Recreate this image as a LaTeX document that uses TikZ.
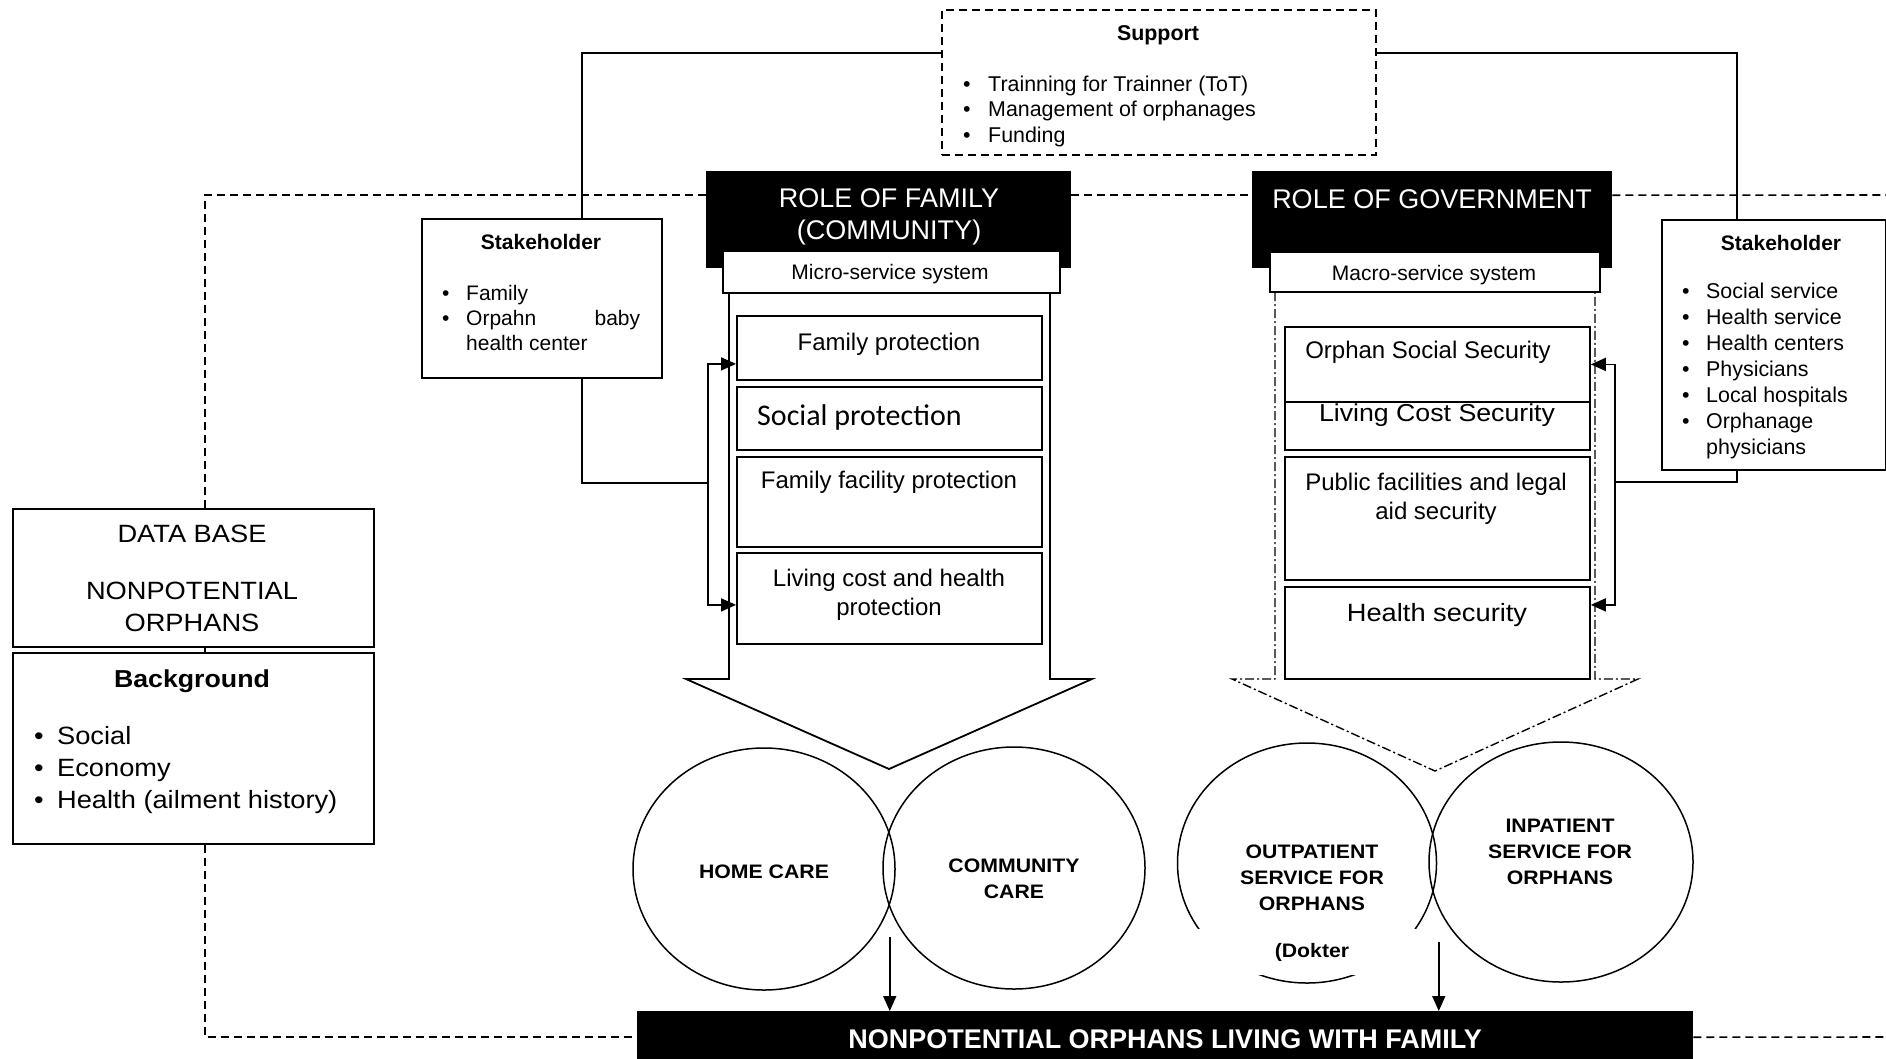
\documentclass[tikz,border=0pt]{standalone}
\usepackage{fontspec}
\setmainfont{Liberation Sans}
\newfontfamily\calfont{Carlito}
\newfontfamily\widesans[FakeStretch=1.09]{Liberation Sans}
\usetikzlibrary{shapes.geometric,arrows.meta}
\newcommand{\blt}[1]{\makebox[#1][l]{\textbullet}}
\tikzset{
	box/.style={draw, line width=1.8pt, fill=white, inner sep=0pt, anchor=north west},
	blackbox/.style={fill=black, inner sep=0pt, anchor=north west},
	txt/.style={inner sep=0pt, align=center, yshift=-2.5pt},
	lst/.style={inner sep=0pt, align=left, anchor=west},
	oval/.style={draw, ellipse, line width=1.5pt, inner sep=0pt},
	dsh/.style={line width=1.6pt, dash pattern=on 8pt off 5pt},
	dshdot/.style={line width=1.4pt, dash pattern=on 9pt off 3pt on 2pt off 3pt},
	link/.style={line width=1.8pt},
	tip/.style={line width=1.6pt, -{Triangle[length=15pt,width=13pt]}},
	fbig/.style={font=\fontsize{27}{32}\selectfont},
	fmid/.style={font=\fontsize{24}{29}\selectfont},
	fsml/.style={font=\fontsize{21}{25}\selectfont},
	fhead/.style={font=\bfseries\fontsize{21}{25}\selectfont},
	fleft/.style={font=\widesans\fontsize{25}{32}\selectfont},
	fovl/.style={font=\widesans\bfseries\fontsize{19.5}{26}\selectfont}
}

\begin{document}
\begin{tikzpicture}[x=1pt, y=-1pt]
	\useasboundingbox (0,0) rectangle (1886,1058);

	\node[box, dsh, minimum width=434pt, minimum height=145pt] (sup) at (941,9) {};
	\node[txt, font=\bfseries\fontsize{21.4}{25}\selectfont] (supt) at (1158,33) {Support};
	\node[lst, yshift=-3pt, font=\fontsize{21.4}{25.5}\selectfont] (supl) at (963,108) {\blt{25pt}Trainning for Trainner (ToT)\\ \blt{25pt}Management of orphanages\\ \blt{25pt}Funding};

	\node[box, minimum width=240pt, minimum height=159pt] (stl) at (421,218) {};
	\node[txt, fhead] (stlt) at (541,239.5) {Stakeholder};
	\node[lst, yshift=-0.5pt, fsml] (stll) at (442,317) {\blt{24pt}Family\\ \blt{24pt}\makebox[174pt][l]{Orpahn\hfill baby}\\ \hspace*{24pt}health center};

	\node[box, minimum width=224pt, minimum height=250pt] (str) at (1661,219) {};
	\node[txt, fhead] (strt) at (1781,240.5) {Stakeholder};
	\node[lst, yshift=-1pt, font=\fontsize{21.4}{26}\selectfont] (strl) at (1682,370) {\blt{24pt}Social service\\ \blt{24pt}Health service\\ \blt{24pt}Health centers\\ \blt{24pt}Physicians\\ \blt{24pt}Local hospitals\\ \blt{24pt}Orphanage\\ \hspace*{24pt}physicians};

	\node[blackbox, minimum width=365pt, minimum height=97pt] (rf) at (706,171) {};
	\node[txt, fbig, text=white] (rft) at (889,214) {ROLE OF FAMILY\\(COMMUNITY)};
	\node[box, minimum width=337pt, minimum height=42pt] (ms) at (722,250) {};
	\node[txt, fsml] (mst) at (890,272) {Micro-service system};

	\node[blackbox, minimum width=360pt, minimum height=97pt] (rg) at (1252,171) {};
	\node[txt, fbig, text=white] (rgt) at (1432,197) {ROLE OF GOVERNMENT};
	\node[box, minimum width=330pt, minimum height=40pt] (mg) at (1269,251) {};
	\node[txt, fsml] (mgt) at (1434,273) {Macro-service system};

	\draw[link] (729,292) -- (729,679) -- (686,679) -- (889,769) -- (1092,679) -- (1050,679) -- (1050,292);
	\draw[dshdot] (1275,292) -- (1275,679) -- (1232,679) -- (1435,771) -- (1638,679) -- (1595,679) -- (1595,292);

	\node[box, minimum width=305pt, minimum height=64pt] (fb1) at (736,315) {};
	\node[box, minimum width=305pt, minimum height=63pt] (fb2) at (736,386) {};
	\node[box, minimum width=305pt, minimum height=90pt] (fb3) at (736,456) {};
	\node[box, minimum width=305pt, minimum height=91pt] (fb4) at (736,552) {};
	\node[txt, fmid] (fb1t) at (889,342) {Family protection};
	\node[txt, anchor=west, font=\calfont\fontsize{30}{36}\selectfont] (fb2t) at (757,415) {Social protection};
	\node[txt, fmid] (fb3t) at (889,480) {Family facility protection};
	\node[txt, fmid] (fb4t) at (889,592) {Living cost and health\\protection};

	\node[box, minimum width=305pt, minimum height=54pt] (gb2) at (1284,395) {};
	\node[box, minimum width=305pt, minimum height=75pt] (gb1) at (1284,326) {};
	\node[box, minimum width=305pt, minimum height=123pt] (gb3) at (1284,456) {};
	\node[box, minimum width=305pt, minimum height=92pt] (gb4) at (1284,586) {};
	\node[txt, fmid] (gb1t) at (1428,350) {Orphan Social Security};
	\node[txt, font=\widesans\fontsize{24.5}{29}\selectfont] (gb2t) at (1437,413) {Living Cost Security};
	\node[txt, fmid] (gb3t) at (1436,496) {Public facilities and legal\\aid security};
	\node[txt, font=\widesans\fontsize{25}{30}\selectfont] (gb4t) at (1437,613) {Health security};

	\node[box, minimum width=361pt, minimum height=138pt] (db) at (12,508) {};
	\node[txt, fleft] (dbt1) at (192,531) {DATA BASE};
	\node[txt, fleft] (dbt2) at (192,604) {NONPOTENTIAL\\ORPHANS};
	\node[box, minimum width=361pt, minimum height=191pt] (bg) at (12,652) {};
	\node[txt, font=\widesans\bfseries\fontsize{24.5}{29}\selectfont] (bgt) at (192,679) {Background};
	\node[lst, yshift=-3pt, fleft] (bgl) at (34,767) {\blt{23pt}Social\\ \blt{23pt}Economy\\ \blt{23pt}Health (ailment history)};

	\node[oval, minimum width=262pt, minimum height=242pt] (hc) at (764,869) {};
	\node[oval, minimum width=262pt, minimum height=242pt] (cc) at (1014,868) {};
	\node[oval, minimum width=259pt, minimum height=240pt] (op) at (1307,863) {};
	\node[fill=white, inner sep=0pt, minimum width=250pt, minimum height=46pt] (dok) at (1300,952) {};
	\node[oval, minimum width=264pt, minimum height=240pt] (ip) at (1561,862) {};
	\node[txt, fovl] (hct) at (764,869) {HOME CARE};
	\node[txt, fovl] (cct) at (1014,876) {COMMUNITY\\CARE};
	\node[txt, fovl] (opt) at (1312,875) {OUTPATIENT\\SERVICE FOR\\ORPHANS};
	\node[txt, fovl] (dokt) at (1312,950) {(Dokter};
	\node[txt, fovl] (ipt) at (1560,849) {INPATIENT\\SERVICE FOR\\ORPHANS};

	\node[blackbox, minimum width=1056pt, minimum height=52pt] (nf) at (637,1011) {};
	\node[txt, text=white, font=\bfseries\fontsize{27}{32}\selectfont] (nft) at (1165,1037) {NONPOTENTIAL ORPHANS LIVING WITH FAMILY};

	\coordinate (brl) at (708,483);
	\coordinate (brr) at (1615,482);
	\coordinate (rtop) at (1886,195);
	\coordinate (rbot) at (1886,1037);
	\coordinate (hcarr) at ([xshift=-6pt,yshift=-68pt]hc.east);
	\coordinate (oparr) at ([xshift=1.5pt,yshift=-79pt]op.east);

	\draw[link] ([yshift=29.5pt]sup.west) -| ([xshift=40pt]stl.north);
	\draw[link] ([yshift=29.5pt]sup.east) -| ([xshift=-37pt]str.north);
	\draw[link] ([xshift=40pt]stl.south) |- (brl);
	\draw[tip] (brl) |- ([yshift=-16pt]fb1.west);
	\draw[tip] (brl) |- ([yshift=-6.5pt]fb4.west);
	\draw[link] ([xshift=-37pt]str.south) |- (brr);
	\draw[tip] (brr) |- (gb1.east);
	\draw[tip] (brr) |- ([yshift=28pt]gb4.east);

	\draw[dsh] ([xshift=11.5pt]db.north) |- ([yshift=24.5pt]rf.west);
	\draw[dsh] ([yshift=24.5pt]rf.east) -- ([yshift=24.5pt]rg.west);
	\draw[dsh] ([yshift=24.5pt]rg.east) -- (rtop);
	\draw[dsh] ([xshift=11.5pt]db.south) -- ([xshift=11.5pt]bg.north);
	\draw[dsh] ([xshift=11.5pt]bg.south) |- (nf.west);
	\draw[dsh] (nf.east) -- (rbot);

	\draw[tip] (hcarr) -- (hcarr |- nf.north);
	\draw[tip] (oparr) -- (oparr |- nf.north);
\end{tikzpicture}
\end{document}
